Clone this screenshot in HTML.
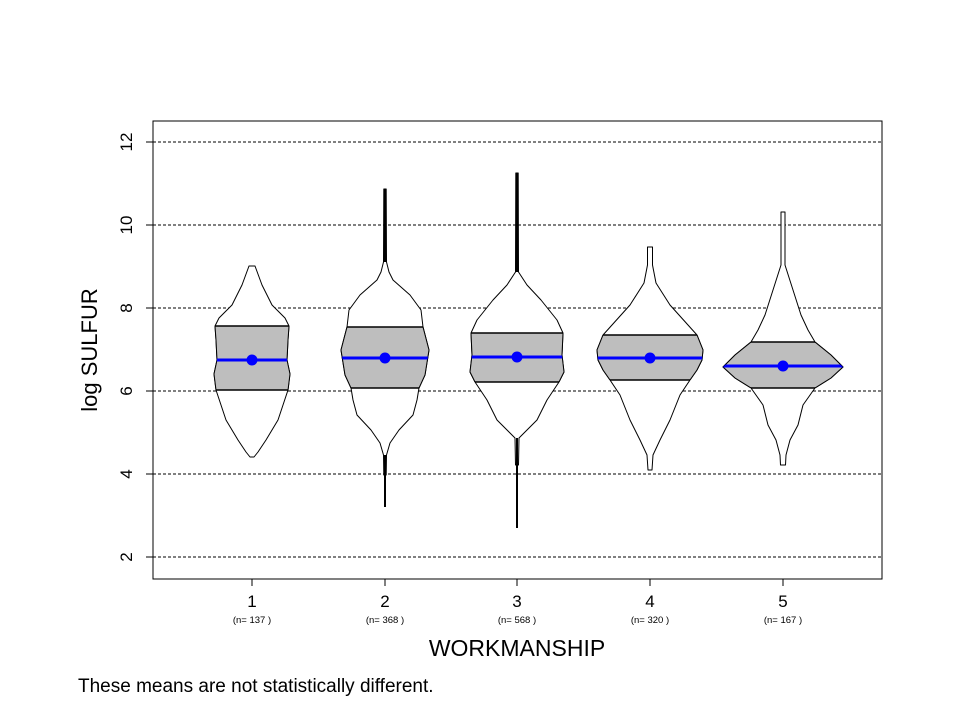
<!DOCTYPE html>
<html><head><meta charset="utf-8"><style>
body{margin:0;background:#fff;width:960px;height:720px;overflow:hidden}
svg{display:block}
text{font-family:"Liberation Sans",sans-serif;fill:#000}
</style></head><body>
<svg id="s" width="960" height="720" viewBox="0 0 960 720" xmlns="http://www.w3.org/2000/svg">
<g stroke="#000" stroke-width="1" stroke-dasharray="3,2">
<line x1="153" y1="142" x2="882" y2="142"/><line x1="153" y1="225" x2="882" y2="225"/>
<line x1="153" y1="308" x2="882" y2="308"/><line x1="153" y1="391" x2="882" y2="391"/>
<line x1="153" y1="474" x2="882" y2="474"/><line x1="153" y1="557" x2="882" y2="557"/>
</g>
<g id="v"></g>
<rect x="153" y="121" width="729" height="458" fill="none" stroke="#000" stroke-width="1"/>
<g stroke="#000">
<line x1="146" y1="142" x2="153" y2="142"/><line x1="146" y1="225" x2="153" y2="225"/>
<line x1="146" y1="308" x2="153" y2="308"/><line x1="146" y1="391" x2="153" y2="391"/>
<line x1="146" y1="474" x2="153" y2="474"/><line x1="146" y1="557" x2="153" y2="557"/>
<line x1="252" y1="579" x2="252" y2="586"/><line x1="385" y1="579" x2="385" y2="586"/>
<line x1="517" y1="579" x2="517" y2="586"/><line x1="650" y1="579" x2="650" y2="586"/>
<line x1="783" y1="579" x2="783" y2="586"/>
</g>
<g font-size="17" text-anchor="middle">
<text transform="translate(132,142) rotate(-90)">12</text>
<text transform="translate(132,225) rotate(-90)">10</text>
<text transform="translate(132,308) rotate(-90)">8</text>
<text transform="translate(132,391) rotate(-90)">6</text>
<text transform="translate(132,474) rotate(-90)">4</text>
<text transform="translate(132,557) rotate(-90)">2</text>
<text x="252" y="607">1</text><text x="385" y="607">2</text><text x="517" y="607">3</text>
<text x="650" y="607">4</text><text x="783" y="607">5</text>
</g>
<g font-size="9.5" text-anchor="middle">
<text x="252" y="623">(n= 137 )</text><text x="385" y="623">(n= 368 )</text>
<text x="517" y="623">(n= 568 )</text><text x="650" y="623">(n= 320 )</text>
<text x="783" y="623">(n= 167 )</text>
</g>
<text x="517" y="656" font-size="23" text-anchor="middle">WORKMANSHIP</text>
<text transform="translate(97,350) rotate(-90)" font-size="22" text-anchor="middle">log SULFUR</text>
<text x="78" y="692" font-size="19">These means are not statistically different.</text>
</svg>
<script>
var V=[
{c:252,q3:326,q1:390,m:360,p:[[266,3],[285,10],[305,20],[318,33],[326,37],[340,36],[360,35],[374,38],[390,36],[405,31],[420,26],[440,14],[452,6],[457,2]]},
{c:385,q3:327,q1:388,m:358,sp:[[189,262],[455,507]],p:[[189,1.2],[262,1.5],[272,4],[280,8],[295,25],[310,36],[327,38],[350,44],[375,40],[388,34],[400,32],[415,28],[430,14],[443,5],[455,1.5],[475,1.2]]},
{c:517,q3:333,q1:382,m:357,sp:[[173,272],[438,528]],p:[[173,1.2],[272,1.5],[285,10],[300,24],[320,40],[333,46],[355,45],[372,47],[382,42],[400,30],[420,20],[432,8],[438,2],[465,1.5]]},
{c:650,q3:335,q1:380,m:358,p:[[247,2.5],[265,2.5],[283,6],[305,20],[325,38],[335,47],[350,53],[360,52],[370,47],[380,40],[395,30],[420,20],[440,10],[455,3],[470,2]]},
{c:783,q3:342,q1:388,m:366,p:[[212,2],[265,2],[290,10],[315,18],[330,25],[342,32],[355,48],[367,60],[378,48],[388,32],[405,20],[425,15],[440,7],[455,3],[465,2.5]]}
];
var g=document.getElementById('v'),h='';
V.forEach(function(v,i){
 var L=v.p.map(function(a){return (v.c-a[1])+','+a[0]});
 var R=v.p.slice().reverse().map(function(a){return (v.c+a[1])+','+a[0]});
 var d='M'+L.join(' L')+' L'+R.join(' L')+' Z';
 h+='<clipPath id="c'+i+'"><rect x="'+(v.c-80)+'" y="'+v.q3+'" width="160" height="'+(v.q1-v.q3)+'"/></clipPath>';
 h+='<clipPath id="w'+i+'"><path d="'+d+'" stroke="none"/></clipPath>';
 h+='<path d="'+d+'" fill="#fff" stroke="#000" stroke-width="1" stroke-linejoin="round"/>';
 h+='<path d="'+d+'" fill="#bebebe" stroke="#000" stroke-width="1" clip-path="url(#c'+i+')"/>';
 h+='<g clip-path="url(#w'+i+')">';
 h+='<line x1="'+(v.c-80)+'" y1="'+v.q3+'" x2="'+(v.c+80)+'" y2="'+v.q3+'" stroke="#000" stroke-width="1.5"/>';
 h+='<line x1="'+(v.c-80)+'" y1="'+v.q1+'" x2="'+(v.c+80)+'" y2="'+v.q1+'" stroke="#000" stroke-width="1.5"/>';
 h+='<line x1="'+(v.c-80)+'" y1="'+v.m+'" x2="'+(v.c+80)+'" y2="'+v.m+'" stroke="#0000ff" stroke-width="3"/>';
 h+='</g>';
 (v.sp||[]).forEach(function(s){h+='<line x1="'+v.c+'" y1="'+s[0]+'" x2="'+v.c+'" y2="'+s[1]+'" stroke="#000" stroke-width="2"/>';});
 h+='<circle cx="'+v.c+'" cy="'+v.m+'" r="5.5" fill="#0000ff"/>';
});
g.innerHTML=h;
</script>
</body></html>
